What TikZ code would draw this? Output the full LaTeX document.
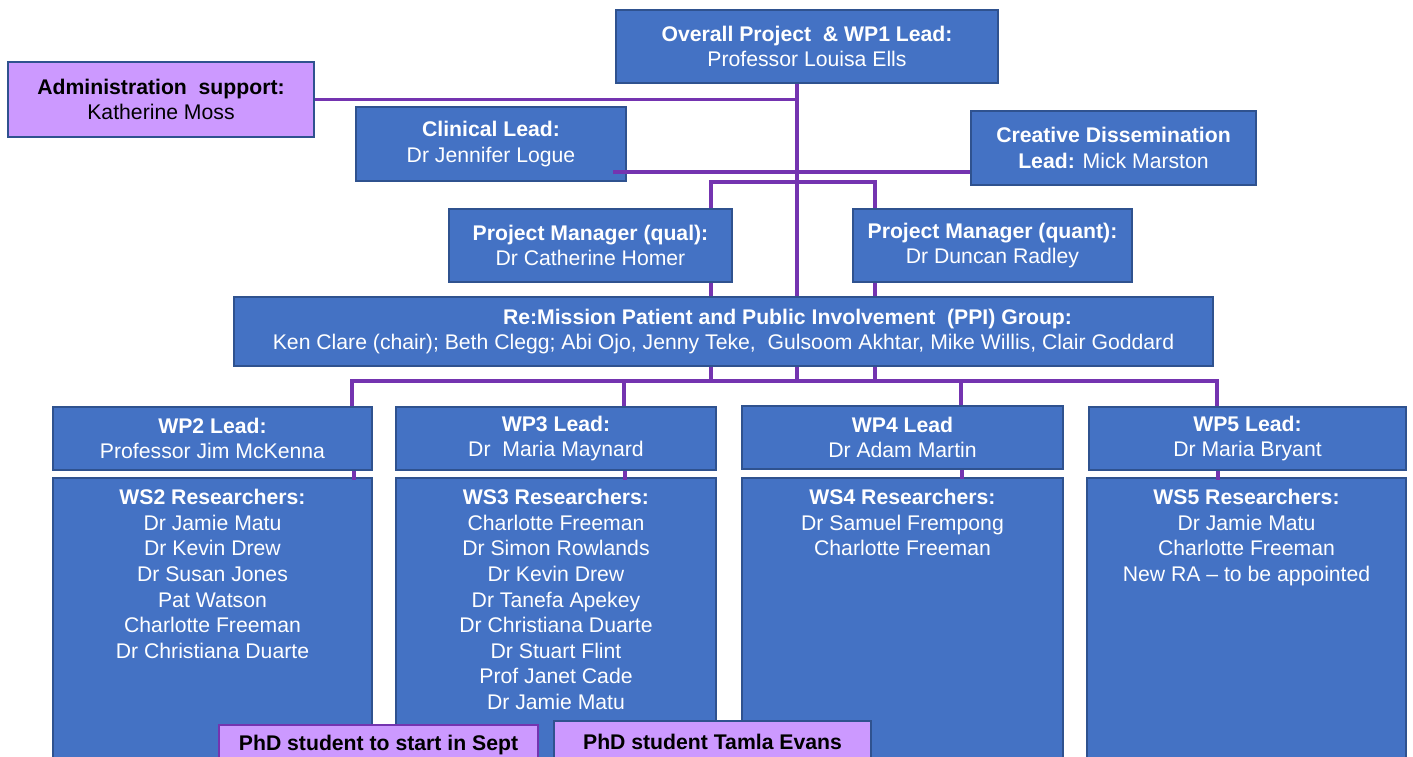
\documentclass[tikz,border=0pt]{standalone}
\usepackage{fontspec}
\setmainfont{Liberation Sans}
\usetikzlibrary{calc}
\definecolor{boxblue}{HTML}{4472C4}
\definecolor{boxedge}{HTML}{2F528F}
\definecolor{lilac}{HTML}{CC99FF}
\definecolor{linepurple}{HTML}{7434B0}

\begin{document}
\begin{tikzpicture}[x=1pt,y=-1pt,
  box/.style={draw=boxedge,line width=1.6pt,fill=boxblue,text=white,align=center,
    inner sep=0pt,font=\fontsize{21.2}{25.6}\selectfont},
  lilacbox/.style={box,fill=lilac,text=black},
  link/.style={draw=linepurple,line width=3.2pt},
  thinlink/.style={draw=linepurple,line width=2.2pt},
  lbl/.style={anchor=north,align=center,text=white,inner sep=0pt,
    font=\fontsize{21.2}{25.6}\selectfont}]
  \useasboundingbox (0,0) rectangle (1413,756);
  \clip (0,0) rectangle (1413,756);
  % top level
  \node[box,minimum width=382,minimum height=73] (lead) at (807,46.5)
    {\textbf{Overall Project \ \& WP1 Lead:}\\Professor Louisa Ells};
  \node[lilacbox,minimum width=306,minimum height=75] (admin) at (161,99.5)
    {\textbf{Administration \ support:}\\Katherine Moss};
  \node[box,minimum width=270,minimum height=74] (clinical) at (491,144)
    {\textbf{Clinical Lead:}\\[1pt]Dr Jennifer Logue};
  \node[box,minimum width=285,minimum height=74] (creative) at (1113.5,148)
    {\textbf{Creative Dissemination}\\\textbf{Lead:} Mick Marston};
  % project managers and PPI
  \node[box,minimum width=283,minimum height=73] (pmqual) at (590.5,245.5)
    {\textbf{Project Manager (qual):}\\Dr Catherine Homer};
  \node[box,minimum width=279,minimum height=73] (pmquant) at (992.5,245.5)
    {\textbf{Project Manager (quant):}\\Dr Duncan Radley};
  \node[box,minimum width=979,minimum height=69] (ppi) at (723.5,331.5)
    {\hspace*{128pt}\textbf{Re:Mission Patient and Public Involvement \ (PPI) Group:}\\
     Ken Clare (chair); Beth Clegg; Abi Ojo, Jenny Teke, \ Gulsoom Akhtar, Mike Willis, Clair Goddard};
  % work package leads
  \node[box,minimum width=319,minimum height=63] (wp2) at (212.5,438.5)
    {\textbf{WP2 Lead:}\\Professor Jim McKenna};
  \node[box,minimum width=320,minimum height=63] (wp3) at (556,438.5)
    {\textbf{WP3 Lead:}\\Dr \ Maria Maynard};
  \node[box,minimum width=321,minimum height=63] (wp4) at (902.5,437.5)
    {\textbf{WP4 Lead}\\Dr Adam Martin};
  \node[box,minimum width=317,minimum height=63] (wp5) at (1247.5,438.5)
    {\textbf{WP5 Lead:}\\Dr Maria Bryant};
  % researcher boxes
  \node[box,minimum width=319,minimum height=284] (ws2) at (212.5,620) {};
  \node[box,minimum width=320,minimum height=284] (ws3) at (556,620) {};
  \node[box,minimum width=321,minimum height=284] (ws4) at (902.5,620) {};
  \node[box,minimum width=319,minimum height=284] (ws5) at (1246.5,620) {};
  \node[lbl] (ws2txt) at ($(ws2.north)+(0,12)$)
    {\textbf{WS2 Researchers:}\\Dr Jamie Matu\\Dr Kevin Drew\\Dr Susan Jones\\
     Pat Watson\\Charlotte Freeman\\Dr Christiana Duarte};
  \node[lbl] (ws3txt) at ($(ws3.north)+(0,12)$)
    {\textbf{WS3 Researchers:}\\Charlotte Freeman\\Dr Simon Rowlands\\Dr Kevin Drew\\
     Dr Tanefa Apekey\\Dr Christiana Duarte\\Dr Stuart Flint\\Prof Janet Cade\\Dr Jamie Matu};
  \node[lbl] (ws4txt) at ($(ws4.north)+(0,12)$)
    {\textbf{WS4 Researchers:}\\Dr Samuel Frempong\\Charlotte Freeman};
  \node[lbl] (ws5txt) at ($(ws5.north)+(0,12)$)
    {\textbf{WS5 Researchers:}\\Dr Jamie Matu\\Charlotte Freeman\\New RA -- to be appointed};
  % PhD students
  \node[lilacbox,draw=linepurple,minimum width=319,minimum height=40] (phd1) at (378.5,745)
    {\textbf{PhD student to start in Sept}};
  \node[lilacbox,minimum width=317,minimum height=42] (phd2) at (712.5,742)
    {\textbf{PhD student Tamla Evans}};
  % connectors
  \coordinate (spine) at (797,0);
  \coordinate (side) at (613,172);
  \coordinate (pmL) at (711,182);
  \coordinate (pmR) at (875,182);
  \coordinate (busL) at (352,381);
  \coordinate (busR) at (1217,381);
  \coordinate (d3) at (624,381);
  \coordinate (d4) at (961,381);
  \draw[link] (spine |- lead.south) -- (spine |- ppi.north);
  \draw[thinlink] (admin.east) -- (admin.east -| spine);
  \draw[link] (side) -- (side -| creative.west);
  \draw[link] (pmL |- pmqual.north) -- (pmL) -- (pmR) -- (pmR |- pmquant.north);
  \draw[link] (pmL |- pmqual.south) -- (pmL |- ppi.north);
  \draw[link] (pmR |- pmquant.south) -- (pmR |- ppi.north);
  \foreach \c in {pmL,spine,pmR}
    \draw[link] (\c |- ppi.south) -- (\c |- busL);
  \draw[link] (busL |- wp2.north) -- (busL) -- (busR) -- (busR |- wp5.north);
  \draw[link] (d3) -- (d3 |- wp3.north);
  \draw[link] (d4) -- (d4 |- wp4.north);
  \foreach \n/\dx in {2/141.5,3/69,4/59.5,5/-29.5}
    \draw[link] ($(wp\n.south)+(\dx,0)$) -- ($(wp\n.south)+(\dx,9)$);
\end{tikzpicture}
\end{document}
